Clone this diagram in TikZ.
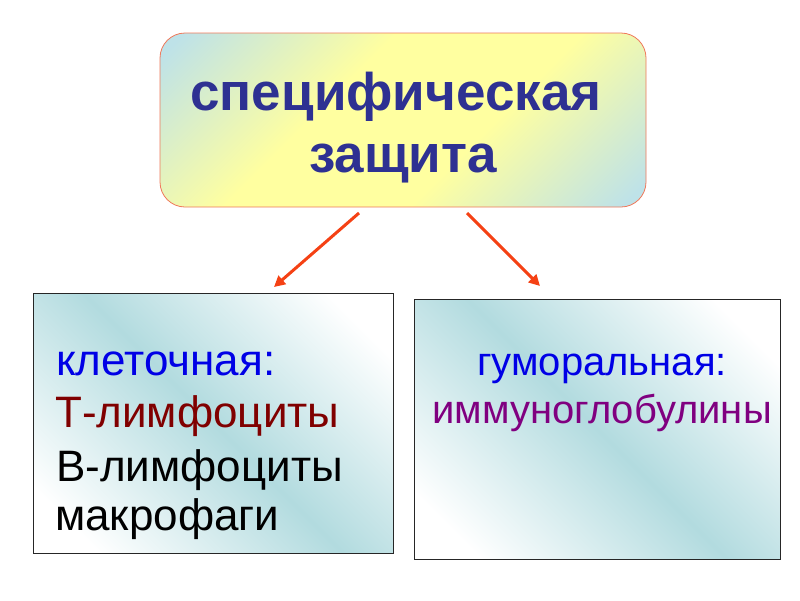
\documentclass[tikz,border=0pt]{standalone}
\usepackage{fontspec}
\setmainfont{Liberation Sans}
\usetikzlibrary{arrows.meta}
\definecolor{tealc}{RGB}{178,219,223}
\definecolor{tealt}{RGB}{190,226,232}
\definecolor{yelc}{RGB}{255,255,160}
\definecolor{navyt}{RGB}{46,49,146}
\definecolor{bluet}{RGB}{0,0,230}
\definecolor{redt}{RGB}{128,0,0}
\definecolor{purplet}{RGB}{128,0,128}
\definecolor{arrowc}{RGB}{245,65,20}
\definecolor{bordert}{RGB}{240,120,90}
\pgfdeclarehorizontalshading{topshade}{100bp}{color(0bp)=(tealt); color(17bp)=(tealt); color(40bp)=(yelc); color(60bp)=(yelc); color(83bp)=(tealt); color(100bp)=(tealt)}
\pgfdeclarehorizontalshading{bandshade}{100bp}{color(0bp)=(white); color(22bp)=(white); color(50bp)=(tealc); color(78bp)=(white); color(100bp)=(white)}
\tikzset{
  topbox/.style={draw=bordert, line width=0.8pt, rounded corners=25pt, shading=topshade, shading angle=-45},
  lowbox/.style={draw=black!85, line width=0.9pt, shading=bandshade, shading angle=45},
  arr/.style={draw=arrowc, line width=3pt, -{Triangle[length=11pt,width=11pt]}},
  toptext/.style={font=\fontsize{53}{62}\selectfont\bfseries, text=navyt, inner sep=0pt, anchor=base},
  lefttext/.style={font=\fontsize{44}{52}\selectfont, inner sep=0pt, anchor=base west},
  righttext/.style={font=\fontsize{40}{48}\selectfont, inner sep=0pt, anchor=base}
}
\begin{document}
\begin{tikzpicture}[x=1pt, y=-1pt]
\useasboundingbox (0,0) rectangle (800,600);
\fill[white] (0,0) rectangle (800,600);
% boxes
\path[topbox] (160,33) rectangle (646,207);
\node[inner sep=0pt, minimum width=486pt, minimum height=174pt] (top) at (403,120) {};
\path[lowbox] (33,293) rectangle (393,553);
\node[inner sep=0pt, minimum width=360pt, minimum height=260pt] (left) at (213,423) {};
\path[lowbox] (414,299) rectangle (780,559);
\node[inner sep=0pt, minimum width=366pt, minimum height=260pt] (right) at (597,429) {};
% texts
\node[toptext] (t1) at (396,110) {специфическая};
\node[toptext] (t2) at (403,172) {защита};
\node[lefttext, text=bluet] (l1) at (56,375) {клеточная:};
\node[lefttext, text=redt] (l2) at (55,427) {Т-лимфоциты};
\node[lefttext, text=black] (l3) at (56,481) {В-лимфоциты};
\node[lefttext, text=black] (l4) at (55,530) {макрофаги};
\node[righttext, text=bluet] (r1) at (602,375) {гуморальная:};
\node[righttext, text=purplet] (r2) at (602,423) {иммуноглобулины};
% arrows
\coordinate (a1s) at (359,213);
\coordinate (a1e) at (274,287);
\coordinate (a2s) at (467,213);
\coordinate (a2e) at (540,286);
\draw[arr] (a1s) -- (a1e);
\draw[arr] (a2s) -- (a2e);
\end{tikzpicture}
\end{document}
